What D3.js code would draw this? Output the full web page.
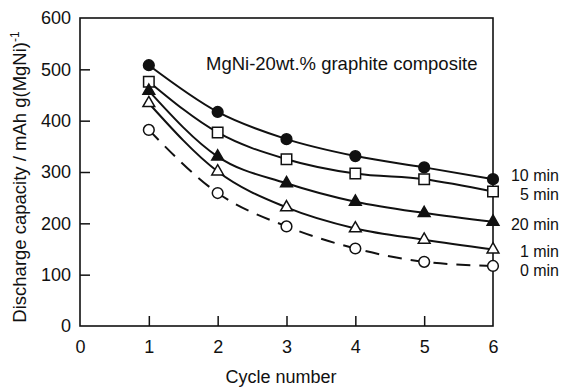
<!DOCTYPE html>
<html>
<head>
<meta charset="utf-8">
<script src="https://cdn.jsdelivr.net/npm/d3@7"></script>
<style>
  body { margin: 0; background: #fff; }
  text { font-family: "Liberation Sans", Arial, sans-serif; fill: #111; }
</style>
</head>
<body>
<div id="chart"></div>
<script>
// data
var cycles = [1, 2, 3, 4, 5, 6];
var min10 = [508, 417, 364, 331, 309, 286];
var min5 = [476, 377, 325, 297, 286, 262];
var min20 = [458, 330, 278, 242, 220, 203];
var min1 = [434, 301, 231, 190, 168, 149];
var min0 = [382, 259, 194, 151, 125, 117];
var seriesNames = ["10 min", "5 min", "20 min", "1 min", "0 min"];
var xTicks = [0, 1, 2, 3, 4, 5, 6];
var yTicks = [0, 100, 200, 300, 400, 500, 600];

var W = 561, H = 387;
var margin = {top: 18, left: 80, right: 68, bottom: 61};

var svg = d3.select("#chart").append("svg").attr("width", W).attr("height", H);

var x = d3.scaleLinear().domain([0, 6]).range([margin.left, W - margin.right]);
var y = d3.scaleLinear().domain([0, 600]).range([H - margin.bottom, margin.top]);

// frame
svg.append("rect")
  .attr("x", x(0)).attr("y", y(600))
  .attr("width", x(6) - x(0)).attr("height", y(0) - y(600))
  .attr("fill", "none").attr("stroke", "#111").attr("stroke-width", 1.6);

var xAxis = svg.append("g").attr("transform", "translate(0," + y(0) + ")")
  .call(d3.axisBottom(x).tickValues(xTicks).tickSize(-10).tickPadding(14).tickFormat(d3.format("d")));
var yAxis = svg.append("g").attr("transform", "translate(" + x(0) + ",0)")
  .call(d3.axisLeft(y).tickValues(yTicks).tickSize(-10).tickPadding(9).tickFormat(d3.format("d")));
[xAxis, yAxis].forEach(function(a){
  a.select(".domain").remove();
  a.selectAll(".tick line").attr("stroke", "#111").attr("stroke-width", 1.5);
  a.selectAll(".tick text").attr("font-size", 18).attr("fill", "#111")
    .attr("font-family", "Liberation Sans, Arial, sans-serif");
});
// the ticks sitting on the frame corners are not drawn
xAxis.selectAll(".tick").filter(function(d){ return d == 0 || d == 6; }).select("line").remove();
yAxis.selectAll(".tick").filter(function(d){ return d == 0 || d == 600; }).select("line").remove();

// axis titles
svg.append("text").attr("x", 281).attr("y", 383).attr("text-anchor", "middle")
  .attr("font-size", 18).text("Cycle number");
var yl = svg.append("text").attr("transform", "translate(26,177) rotate(-90)")
  .attr("text-anchor", "middle").attr("font-size", 18.5);
yl.append("tspan").text("Discharge capacity / mAh g(MgNi)");
yl.append("tspan").attr("font-size", 12).attr("dy", -7).text("-1");

svg.append("text").attr("x", 206).attr("y", 70).attr("font-size", 18.5)
  .text("MgNi-20wt.% graphite composite");

var allSeries = [min10, min5, min20, min1, min0];
var shapes = ["circle", "square", "triangle", "triangle", "circle"];
var filled = [true, false, true, false, false];
var dashed = [false, false, false, false, true];
var labelY = [181, 199.5, 230, 257, 276];

var line = d3.line()
  .x(function(d, i){ return x(cycles[i]); })
  .y(function(d){ return y(d); })
  .curve(d3.curveMonotoneX);

allSeries.forEach(function(vals, s){
  svg.append("path").datum(vals)
    .attr("d", line).attr("fill", "none").attr("stroke", "#111")
    .attr("stroke-width", 2).attr("stroke-dasharray", dashed[s] ? "14,9" : null);
});

var symType = {circle: d3.symbolCircle, square: d3.symbolSquare, triangle: d3.symbolTriangle};
var symSize = {circle: 90, square: 110, triangle: 60};
allSeries.forEach(function(vals, s){
  svg.append("g").selectAll("path").data(vals).enter().append("path")
    .attr("transform", function(d, i){ return "translate(" + x(cycles[i]) + "," + y(d) + ")"; })
    .attr("d", d3.symbol().type(symType[shapes[s]]).size(symSize[shapes[s]]))
    .attr("fill", filled[s] ? "#111" : "#fff")
    .attr("stroke", "#111").attr("stroke-width", 1.5);
  svg.append("text").attr("x", 559).attr("y", labelY[s])
    .attr("text-anchor", "end").attr("font-size", 16).text(seriesNames[s]);
});
</script>
</body>
</html>
